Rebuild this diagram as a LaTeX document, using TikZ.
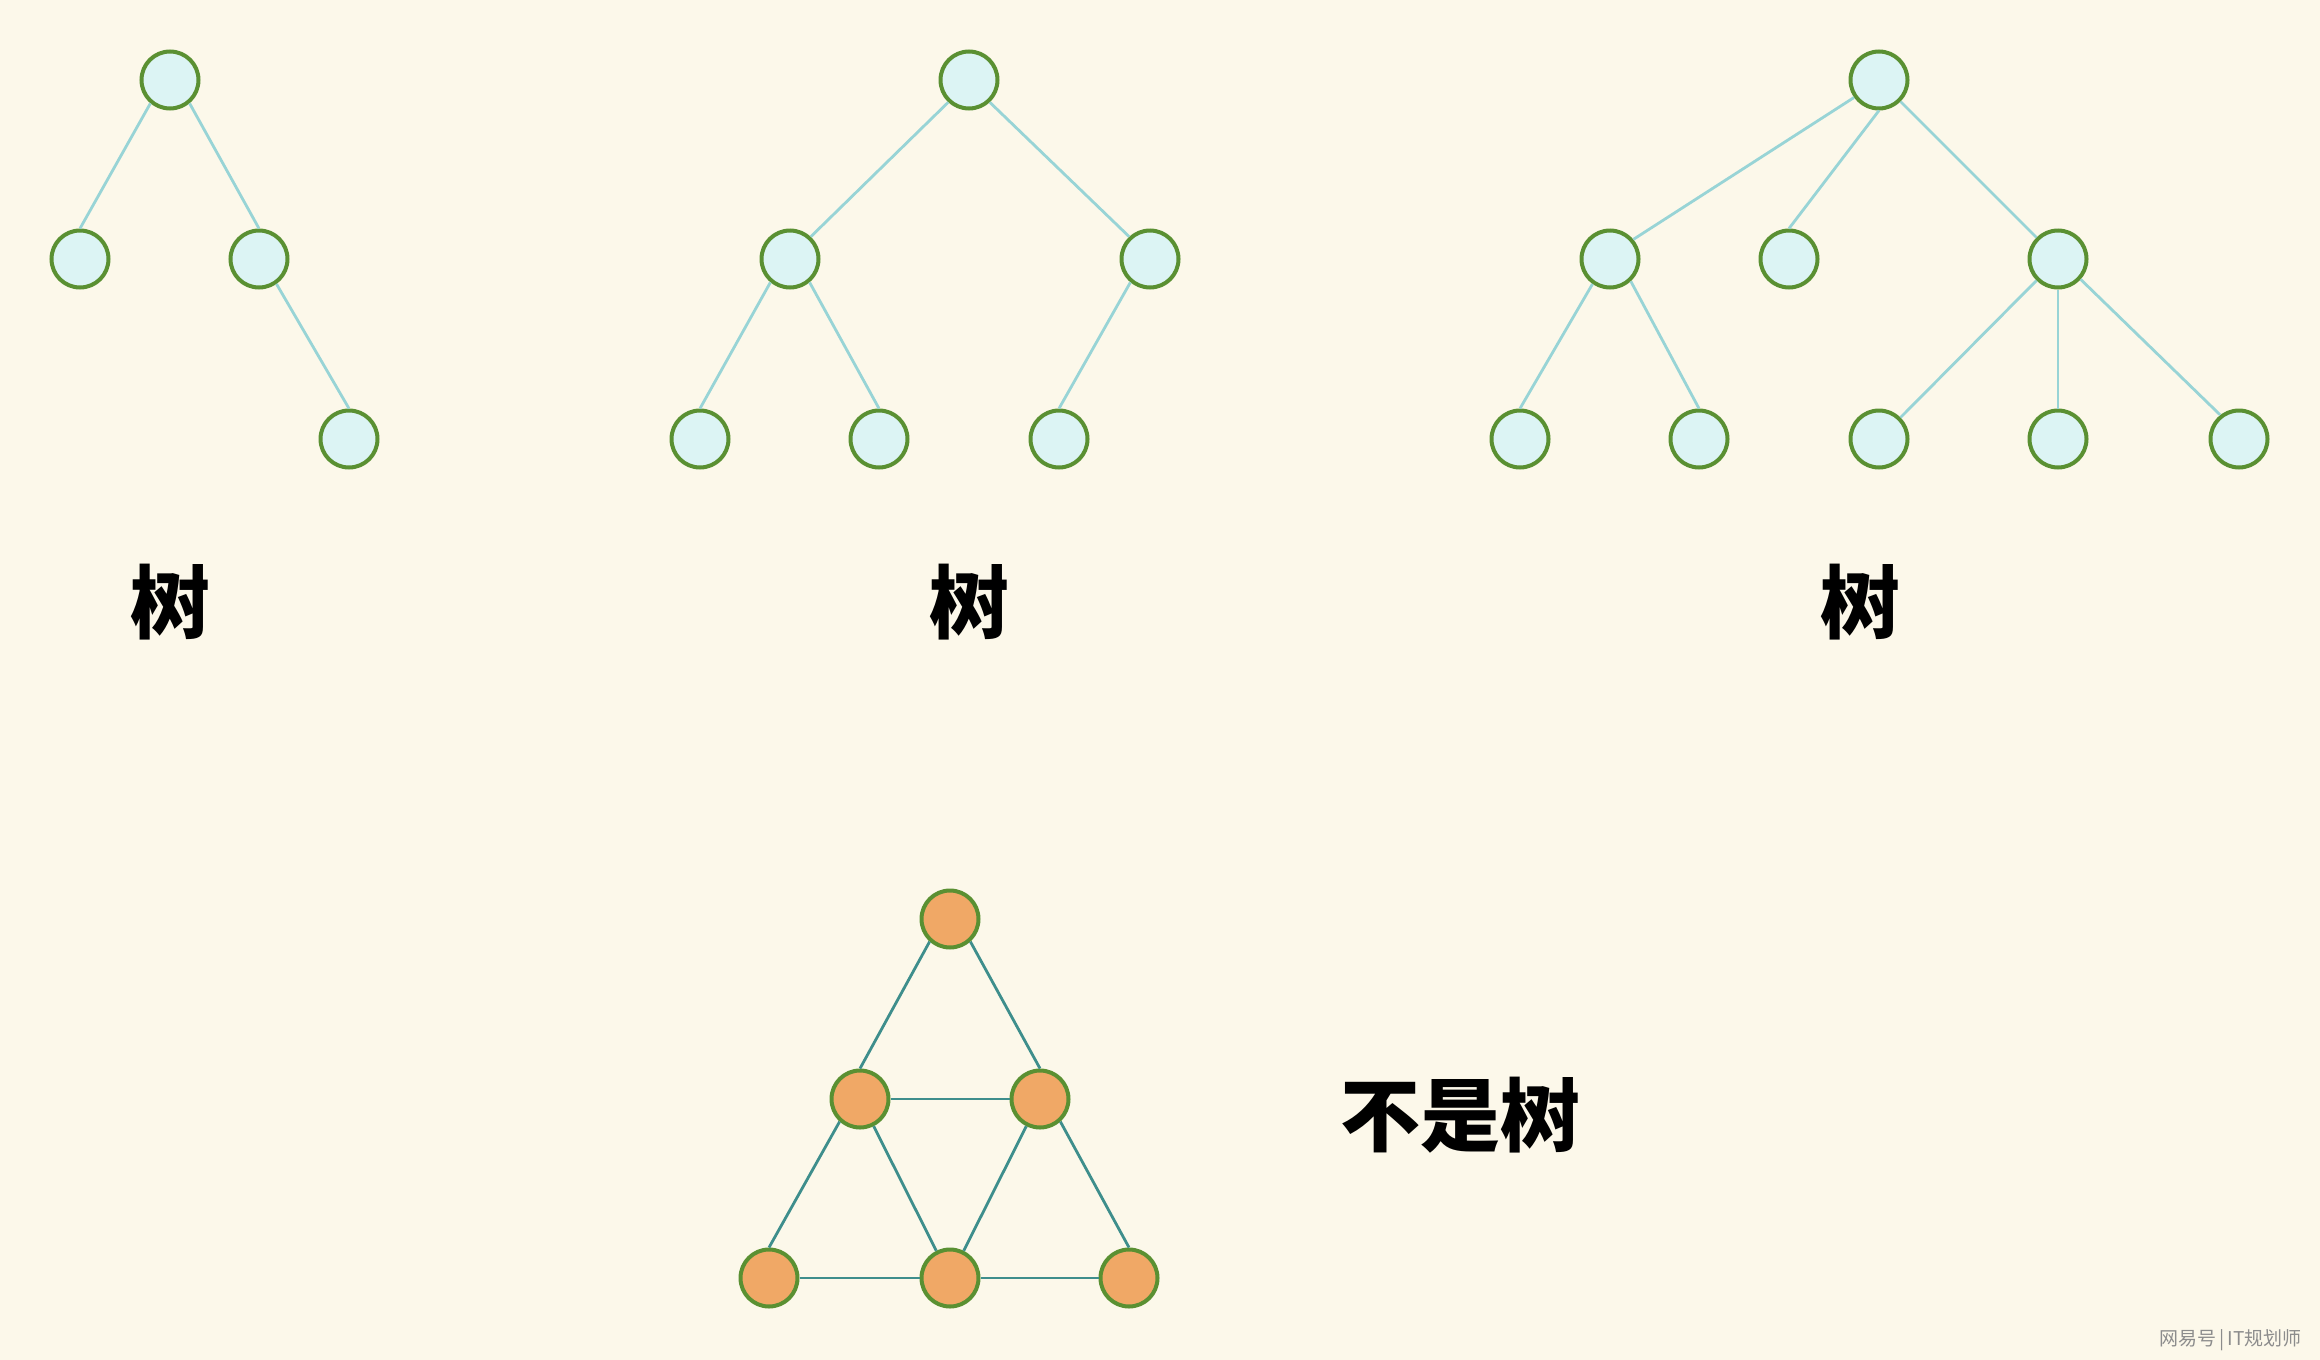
\documentclass[tikz,border=0pt]{standalone}
\usepackage{fontspec}
\newfontfamily\cjk{Noto Sans CJK SC}
\definecolor{bg}{HTML}{FCF8EA}
\definecolor{ring}{HTML}{5A9032}
\definecolor{tfill}{HTML}{DCF4F4}
\definecolor{ofill}{HTML}{F0A866}
\definecolor{tedge}{HTML}{98D4D6}
\definecolor{gedge}{HTML}{3E8E8C}
\tikzset{
  tnode/.style={circle,draw=ring,fill=tfill,line width=2pt,minimum size=28.5pt,inner sep=0pt},
  onode/.style={circle,draw=ring,fill=ofill,line width=2pt,minimum size=28.5pt,inner sep=0pt},
  tline/.style={draw=tedge,line width=1.4pt},
  gline/.style={draw=gedge,line width=1.4pt},
  lab/.style={font=\cjk\bfseries\fontsize{40}{44}\selectfont,text=black,inner sep=0pt},
  wmark/.style={font=\cjk\fontsize{9.5}{10}\selectfont,text=black!45,inner sep=0pt,anchor=east}
}
\begin{document}
\begin{tikzpicture}[x=0.5pt,y=-0.5pt]
\fill[bg] (0,0) rectangle (2320,1360);
\useasboundingbox (0,0) rectangle (2320,1360);
% tree 1
\node[tnode] (a0) at (170,80) {};
\node[tnode] (a1) at (80,259) {};
\node[tnode] (a2) at (259,259) {};
\node[tnode] (a3) at (349,439) {};
\draw[tline] (a0.230) -- (a1.north);
\draw[tline] (a0.310) -- (a2.north);
\draw[tline] (a2.305) -- (a3.north);
\node[lab] (la) at (170,602) {树};
% tree 2
\node[tnode] (b0) at (969,80) {};
\node[tnode] (b1) at (790,259) {};
\node[tnode] (b2) at (1150,259) {};
\node[tnode] (b3) at (700,439) {};
\node[tnode] (b4) at (879,439) {};
\node[tnode] (b5) at (1059,439) {};
\draw[tline] (b0.227) -- (b1.47);
\draw[tline] (b0.313) -- (b2.133);
\draw[tline] (b1.230) -- (b3.north);
\draw[tline] (b1.310) -- (b4.north);
\draw[tline] (b2.230) -- (b5.north);
\node[lab] (lb) at (969,602) {树};
% tree 3
\node[tnode] (c0) at (1879,80) {};
\node[tnode] (c1) at (1610,259) {};
\node[tnode] (c2) at (1789,259) {};
\node[tnode] (c3) at (2058,259) {};
\node[tnode] (c4) at (1520,439) {};
\node[tnode] (c5) at (1699,439) {};
\node[tnode] (c6) at (1879,439) {};
\node[tnode] (c7) at (2058,439) {};
\node[tnode] (c8) at (2239,439) {};
\draw[tline] (c0.215) -- (c1.40);
\draw[tline] (c0.south) -- (c2.north);
\draw[tline] (c0.315) -- (c3.135);
\draw[tline] (c1.235) -- (c4.north);
\draw[tline] (c1.313) -- (c5.north);
\draw[tline] (c3.225) -- (c6.45);
\draw[tline] (c3.south) -- (c7.north);
\draw[tline] (c3.318) -- (c8.128);
\node[lab] (lc) at (1860,602) {树};
% not a tree
\node[onode] (d0) at (950,919) {};
\node[onode] (d1) at (860,1099) {};
\node[onode] (d2) at (1040,1099) {};
\node[onode] (d3) at (769,1278) {};
\node[onode] (d4) at (950,1278) {};
\node[onode] (d5) at (1129,1278) {};
\draw[gline] (d0.228) -- (d1.north);
\draw[gline] (d0.312) -- (d2.north);
\draw[gline] (d1) -- (d2);
\draw[gline] (d1.228) -- (d3.north);
\draw[gline] (d1) -- (d4);
\draw[gline] (d2) -- (d4);
\draw[gline] (d2.312) -- (d5.north);
\draw[gline] (d3) -- (d4);
\draw[gline] (d4) -- (d5);
\node[lab] (ld) at (1460,1115) {不是树};
\node[wmark] (wm) at (2302,1340) {网易号\,|\,IT规划师};
\end{tikzpicture}
\end{document}
